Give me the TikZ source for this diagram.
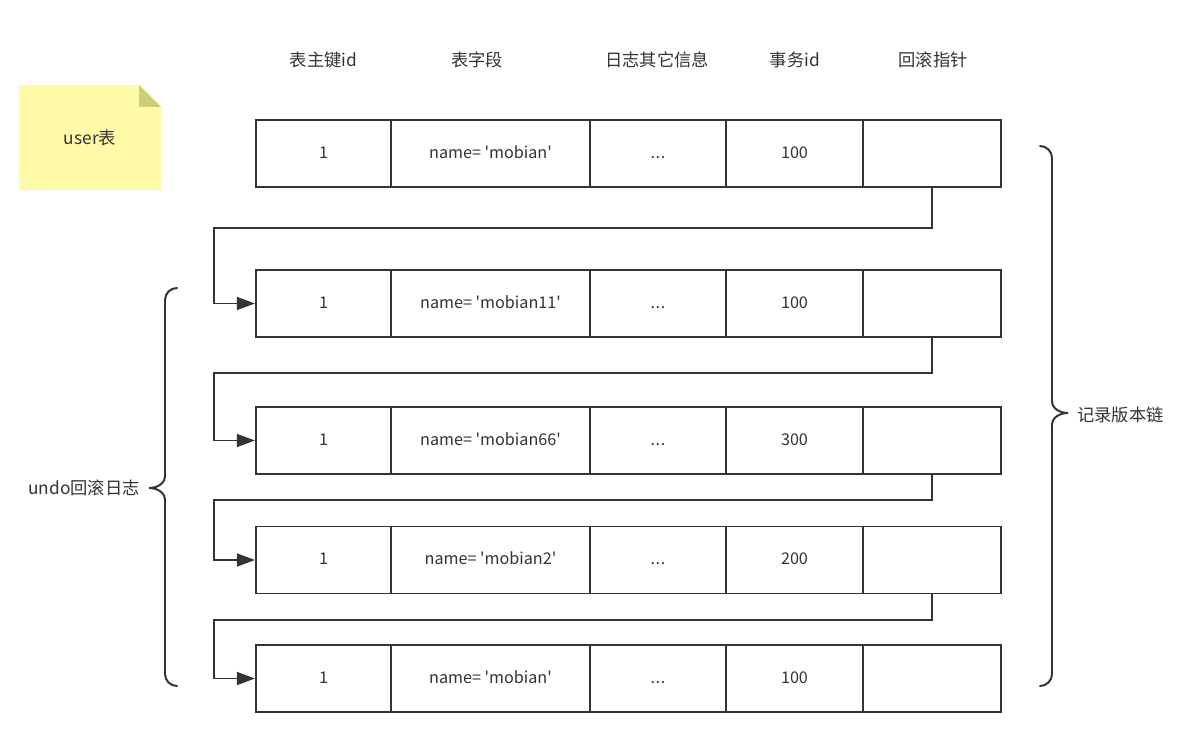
\documentclass[tikz,border=0pt]{standalone}
\usepackage{fontspec}
\setmainfont{Noto Sans CJK SC}[Ligatures=TeXOff]
\usetikzlibrary{arrows.meta}
\definecolor{inkgray}{HTML}{333333}
\definecolor{notefill}{HTML}{FFFAA8}
\definecolor{foldfill}{HTML}{CDCD7A}

\begin{document}
\begin{tikzpicture}[
    x=0.025cm,
    y=-0.025cm,
    >={Triangle[length=0.45cm,width=0.32cm]},
    cell/.style={draw=inkgray, line width=1.4pt, minimum height=1.675cm, inner sep=0pt, text height=1.5ex, text depth=0.3ex, text=inkgray, font=\fontsize{11.5}{13}\selectfont},
    head/.style={text=inkgray, inner sep=0pt, font=\fontsize{12.3}{14}\selectfont},
    link/.style={->, draw=inkgray, line width=1.4pt},
    brace/.style={draw=inkgray, line width=1.4pt, line cap=round}
]
\fill[white] (0,0) rectangle (1192,748);

% user table note
\fill[notefill] (19,85) -- (139,85) -- (161,107) -- (161,190) -- (19,190) -- cycle;
\fill[foldfill] (139,85) -- (139,107) -- (161,107) -- cycle;
\node[head] (note) at (90,138) {user表};

% column headers
\node[head] (hkey) at (323.5,60) {表主键id};
\node[head] (hfield) at (477,60) {表字段};
\node[head] (hinfo) at (657,60) {日志其它信息};
\node[head] (htrx) at (795,60) {事务id};
\node[head] (hptr) at (933,60) {回滚指针};

% record rows
\foreach \r/\y/\val/\tid in {1/153.5/mobian/100, 2/303.5/mobian11/100, 3/440.5/mobian66/300, 4/560/mobian2/200, 5/678.5/mobian/100} {
  \node[cell, minimum width=3.375cm] (r\r c1) at (323.5,\y) {1};
  \node[cell, minimum width=4.975cm] (r\r c2) at (490.5,\y) {name= '\val'};
  \node[cell, minimum width=3.4cm] (r\r c3) at (658,\y) {.\kern0.4pt.\kern0.4pt.};
  \node[cell, minimum width=3.425cm] (r\r c4) at (794.5,\y) {\tid};
  \node[cell, minimum width=3.45cm] (r\r c5) at (932,\y) {};
}

% roll pointers
\coordinate (j1) at (214,228);
\coordinate (j2) at (214,373);
\coordinate (j3) at (214,500);
\coordinate (j4) at (214,620);
\draw[link] (r1c5.south) |- (j1) |- (r2c1.west);
\draw[link] (r2c5.south) |- (j2) |- (r3c1.west);
\draw[link] (r3c5.south) |- (j3) |- (r4c1.west);
\draw[link] (r4c5.south) |- (j4) |- (r5c1.west);

% braces
\draw[brace] (177,288) to[out=180,in=90] (165,300) -- (165,476) to[out=270,in=0] (149,488)
  to[out=0,in=90] (165,500) -- (165,674) to[out=270,in=180] (177,686);
\node[head, anchor=east] (undo) at (140,488) {undo回滚日志};
\draw[brace] (1040,146) to[out=0,in=90] (1052,158) -- (1052,401) to[out=270,in=180] (1068,413)
  to[out=180,in=90] (1052,425) -- (1052,674) to[out=270,in=0] (1040,686);
\node[head, anchor=west] (chain) at (1077,415) {记录版本链};
\end{tikzpicture}
\end{document}
